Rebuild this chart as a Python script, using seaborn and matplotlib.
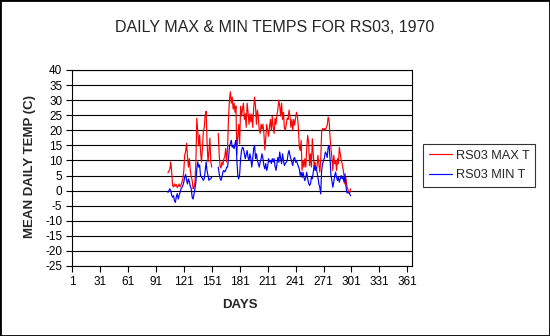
import numpy as np
import pandas as pd
import matplotlib
matplotlib.use("Agg")
import matplotlib.pyplot as plt
import seaborn as sns
from matplotlib.patches import Rectangle

# ---------------- data ----------------
days = np.arange(104, 301)  # day-of-year 104 .. 300
nan = np.nan
max_t = [
    5.9, 6.5, 7.0, 9.5, 6.2, 1.7, 1.2, 2.2, 1.5, 2.0,          # 104-113
    1.0, 1.5, 2.2, 1.2, 1.8, 2.8, 3.9, 6.5, 11.8, 13.0,        # 114-123
    15.7, 11.2, 7.8, 10.6, 6.7, 4.5, 3.4, 0.6, 1.1, 2.8,       # 124-133
    9.5, 24.0, 19.6, 15.0, 18.5, 12.9, 9.5, 14.0, 19.6, 21.0,  # 134-143
    25.2, 26.3, 15.7, 9.5, 12.9, 17.4, 9.5, 7.8, nan, nan,     # 144-153
    nan, nan, nan, nan, 19.0, 12.0, 8.0, 7.5, 9.5, 8.5,        # 154-163
    10.5, 11.2, 14.0, 9.5, 14.0, 24.0, 30.0, 32.8, 29.0, 31.0, # 164-173
    27.0, 29.0, 26.0, 28.0, 12.0, 18.0, 22.0, 15.5, 28.0, 24.7,# 174-183
    27.0, 29.0, 23.6, 25.5, 21.0, 29.0, 26.0, 22.0, 25.5, 22.8,# 184-193
    25.3, 21.0, 27.0, 31.0, 28.0, 22.0, 26.7, 24.7, 20.0, 19.0,# 194-203
    22.0, 20.5, 22.0, 19.0, 13.5, 17.4, 22.0, 20.0, 18.0, 21.0,# 204-213
    23.6, 20.0, 24.7, 21.0, 19.0, 24.0, 22.0, 25.0, 27.0, 30.0,# 214-223
    28.0, 24.7, 29.0, 23.6, 26.0, 20.8, 20.0, 22.0, 24.0, 23.6,# 224-233
    26.7, 24.7, 21.0, 23.6, 20.0, 23.6, 21.7, 24.0, 26.0, 24.7,# 234-243
    21.0, 14.4, 13.3, 16.7, 6.7, 10.0, 7.8, 10.6, 7.8, 14.0,   # 244-253
    18.3, 16.0, 8.3, 12.2, 7.8, 17.2, 12.2, 7.8, 9.4, 6.7,     # 254-263
    7.8, 11.7, 9.0, 6.1, 10.0, 19.5, 20.6, 20.0, 20.6, 20.0,   # 264-273
    21.0, 21.7, 24.4, 23.3, 17.8, 13.9, 11.0, 6.7, 11.7, 8.9,  # 274-283
    10.0, 6.7, 10.6, 8.9, 14.4, 12.2, 10.0, 8.9, 7.2, 5.0,     # 284-293
    2.2, 4.4, 1.7, 0.6, -0.5, -1.0, 0.6,                       # 294-300
]
min_t = [
    -0.6, 0.0, 0.6, 0.0, -1.5, -2.2, -1.7, -3.4, -3.9, -2.0,   # 104-113
    -1.0, -2.8, -1.7, -0.6, 0.6, 1.0, 1.7, 2.8, 4.5, 5.4,      # 114-123
    3.5, 2.2, 3.9, 3.0, 1.5, 0.6, -2.2, -2.8, -1.1, 0.6,       # 124-133
    2.8, 7.3, 9.5, 7.8, 8.5, 5.0, 4.5, 4.0, 3.4, 4.0,          # 134-143
    6.7, 9.5, 6.5, 5.0, 3.4, 3.9, 3.9, 4.5, nan, nan,          # 144-153
    nan, nan, nan, nan, 7.8, 5.6, 4.0, 3.4, 4.5, 6.2,          # 154-163
    6.7, 6.2, 6.7, 7.8, 7.8, 10.6, 14.6, 15.7, 16.7, 14.4,     # 164-173
    15.0, 13.9, 15.6, 16.7, 10.0, 5.0, 3.9, 5.5, 10.6, 13.3,   # 174-183
    14.4, 14.0, 12.2, 10.6, 12.0, 13.3, 11.0, 10.0, 12.2, 10.6,# 184-193
    7.8, 10.6, 13.9, 15.0, 10.6, 12.2, 10.0, 9.0, 7.8, 9.4,    # 194-203
    10.6, 12.2, 10.6, 8.3, 7.2, 9.0, 6.7, 7.8, 10.6, 9.5,      # 204-213
    10.0, 9.0, 10.6, 9.5, 10.6, 8.0, 6.7, 8.9, 11.0, 9.4,      # 214-223
    12.8, 10.6, 8.9, 12.2, 10.0, 8.3, 9.0, 9.4, 10.0, 12.2,    # 224-233
    13.3, 11.7, 10.6, 9.4, 8.3, 10.6, 11.0, 9.4, 10.0, 8.9,    # 234-243
    8.0, 7.2, 5.0, 6.1, 4.4, 6.1, 4.4, 3.3, 4.4, 6.1,          # 244-253
    3.9, 2.5, 1.7, 2.2, 4.4, 3.9, 6.1, 8.3, 6.7, 7.8,          # 254-263
    6.1, 4.4, 2.2, 1.1, -1.1, 6.7, 8.9, 10.0, 11.0, 12.8,      # 264-273
    12.2, 11.0, 14.4, 15.0, 10.6, 5.0, 3.3, 1.1, 2.8, 5.0,     # 274-283
    6.1, 4.4, 3.3, 4.4, 2.8, 4.0, 5.0, 3.9, 4.4, 2.8,          # 284-293
    5.6, 1.7, -0.6, -0.8, -0.6, -1.0, -1.7,                    # 294-300
]
series_names = ["RS03 MAX T", "RS03 MIN T"]
series_colors = ["#ff0000", "#0000ff"]
x_ticks = [1, 31, 61, 91, 121, 151, 181, 211, 241, 271, 301, 331, 361]
y_ticks = [-25, -20, -15, -10, -5, 0, 5, 10, 15, 20, 25, 30, 35, 40]
title = "DAILY MAX & MIN TEMPS FOR RS03, 1970"
x_label = "DAYS"
y_label = "MEAN DAILY TEMP (C)"

# ---------------- table ----------------
df = pd.DataFrame({
    "day": np.concatenate([days, days]),
    "temp": np.array(max_t + min_t, dtype=float),
    "series": [series_names[0]] * len(days) + [series_names[1]] * len(days),
})
# missing days split each series into two segments (gap in the line)
df["segment"] = (df["day"] > 151).astype(int)
df = df.dropna(subset=["temp"])

# ---------------- figure ----------------
sns.set_theme(style="white")
plt.rcParams["font.family"] = ["Liberation Sans", "DejaVu Sans"]
plt.rcParams["axes.unicode_minus"] = False

W, H = 550, 336
fig = plt.figure(figsize=(W / 100, H / 100), dpi=100)
fig.patch.set_facecolor("white")
ax = fig.add_axes([72 / W, 1 - 266 / H, 340 / W, 196 / H])

sns.lineplot(data=df, x="day", y="temp", hue="series", units="segment",
             estimator=None, palette=series_colors, hue_order=series_names,
             linewidth=0.85, ax=ax, legend=True)

ax.set_xlim(1, 366)
ax.set_ylim(-25, 40)
ax.set_xticks(x_ticks)
ax.set_yticks(y_ticks)
ax.set_xticklabels([str(t) for t in x_ticks])
ax.set_yticklabels([str(t) for t in y_ticks])
ax.yaxis.grid(True, color="black", linewidth=0.8)
ax.xaxis.grid(False)
ax.set_axisbelow(True)
for s in ax.spines.values():
    s.set_color("black")
    s.set_linewidth(0.8)
ax.tick_params(axis="both", which="major", direction="out", length=4, width=0.8,
               color="black", labelcolor="black", labelsize=8.5,
               bottom=True, left=True, pad=3)
ax.set_xlabel("")
ax.set_ylabel("")

fig.text(0.5, 1 - 28 / H, title, ha="center", va="center", fontsize=11.5)
fig.text(240 / W, 1 - 305 / H, x_label, ha="center", va="center",
         fontsize=9.5, fontweight="bold")
fig.text(30 / W, 1 - 166 / H, y_label, ha="center", va="center",
         rotation=90, fontsize=9.5, fontweight="bold")

handles, labels = ax.get_legend_handles_labels()
hl = [(h, l) for h, l in zip(handles, labels) if l in series_names]
if ax.get_legend() is not None:
    ax.get_legend().remove()
leg = fig.legend([h for h, _ in hl], [l for _, l in hl],
                 loc="upper left", bbox_to_anchor=(423 / W, 1 - 144 / H),
                 bbox_transform=fig.transFigure, borderaxespad=0,
                 fontsize=9.2, frameon=True, fancybox=False,
                 handlelength=1.8, handletextpad=0.3, labelspacing=0.6,
                 borderpad=0.45)
leg.get_frame().set_edgecolor("black")
leg.get_frame().set_linewidth(0.8)
for line in leg.get_lines():
    line.set_linewidth(0.85)

fig.patches.append(Rectangle((0, 0), 1, 1, transform=fig.transFigure,
                             fill=False, edgecolor="black", linewidth=2))

fig.savefig("out.png", dpi=100, facecolor="white")
